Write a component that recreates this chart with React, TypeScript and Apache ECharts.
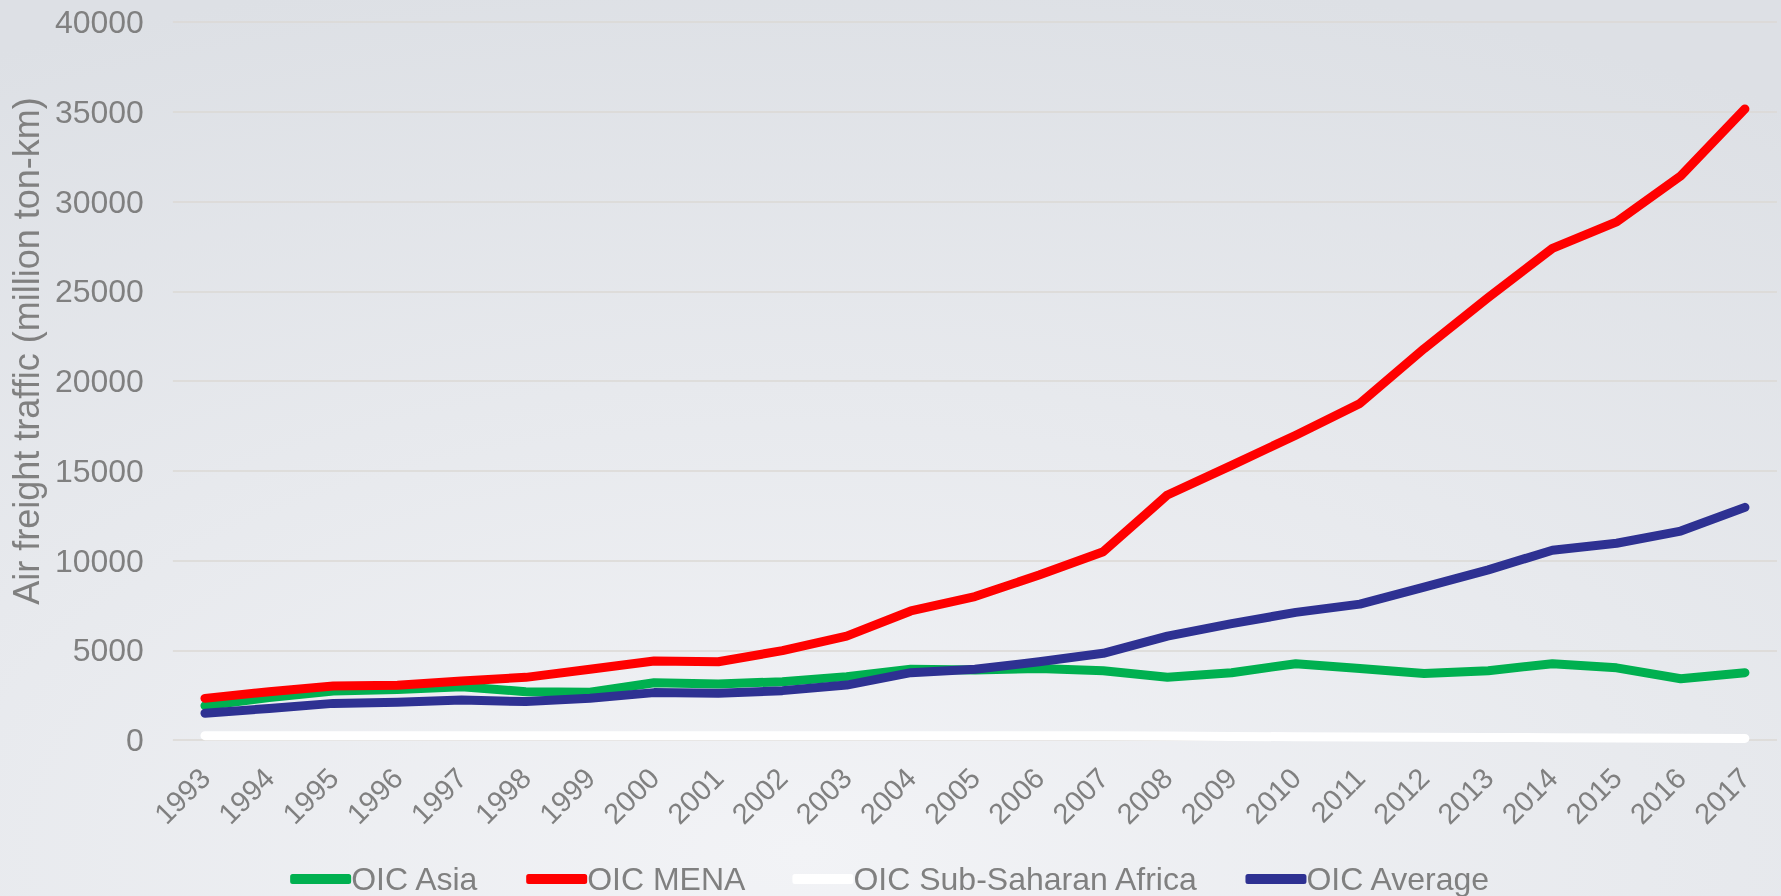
import React, { useEffect, useRef } from "react";
import * as echarts from "echarts";

const years = [
  "1993", "1994", "1995", "1996", "1997", "1998", "1999", "2000", "2001", "2002",
  "2003", "2004", "2005", "2006", "2007", "2008", "2009", "2010", "2011", "2012",
  "2013", "2014", "2015", "2016", "2017",
];

const oicAsia = [
  1910, 2360, 2730, 2820, 2970, 2690, 2660, 3190, 3120, 3250,
  3530, 3940, 3900, 3990, 3860, 3500, 3750, 4250, 3980, 3710,
  3860, 4250, 4020, 3410, 3750,
];

const oicMena = [
  2320, 2690, 3010, 3050, 3290, 3490, 3940, 4400, 4360, 4980,
  5790, 7190, 7990, 9190, 10490, 13650, 15300, 16980, 18750, 21800,
  24650, 27390, 28860, 31430, 35160,
];

const oicSsa = [
  240, 240, 240, 240, 240, 240, 240, 240, 230, 230,
  230, 230, 230, 230, 230, 220, 200, 180, 170, 150,
  140, 130, 110, 100, 90,
];

const oicAverage = [
  1490, 1760, 2040, 2100, 2230, 2140, 2320, 2640, 2600, 2750,
  3060, 3750, 3940, 4360, 4830, 5790, 6480, 7110, 7570, 8520,
  9480, 10570, 10960, 11640, 12960,
];

const seriesNames = ["OIC Asia", "OIC MENA", "OIC Sub-Saharan Africa", "OIC Average"];
const seriesColors = ["#00b050", "#ff0000", "#ffffff", "#2e3192"];
const yTitle = "Air freight traffic (million ton-km)";

const FONT = "'Liberation Sans', Arial, sans-serif";
const GREY = "#808080";

export default function App() {
  const ref = useRef<HTMLDivElement>(null);

  useEffect(() => {
    if (!ref.current) return;
    const chart = echarts.init(ref.current, null, { renderer: "svg" });
    const data = [oicAsia, oicMena, oicSsa, oicAverage];
    chart.setOption({
      animation: false,
      backgroundColor: {
        type: "radial",
        x: 0.45,
        y: 0.95,
        r: 1.0,
        colorStops: [
          { offset: 0, color: "#f2f3f6" },
          { offset: 1, color: "#dde0e5" },
        ],
      },
      textStyle: { fontFamily: FONT },
      grid: { left: 167, right: 4, top: 22, bottom: 156, containLabel: false },
      legend: {
        bottom: -4,
        left: "center",
        icon: "roundRect",
        itemWidth: 61,
        itemHeight: 10,
        itemGap: 47,
        textStyle: {
          color: GREY,
          fontSize: 32,
          fontFamily: FONT,
          padding: [0, 0, 0, -5],
        },
        data: seriesNames,
      },
      xAxis: {
        type: "category",
        data: years,
        boundaryGap: true,
        axisLine: { show: false },
        axisTick: { show: false },
        axisLabel: {
          rotate: 45,
          interval: 0,
          margin: 33,
          color: GREY,
          fontSize: 29,
          fontFamily: FONT,
        },
      },
      yAxis: {
        type: "value",
        min: 0,
        max: 40000,
        interval: 5000,
        name: yTitle,
        nameLocation: "middle",
        nameRotate: 90,
        nameGap: 119,
        nameTextStyle: {
          color: GREY,
          fontSize: 36,
          fontFamily: FONT,
          padding: [0, 0, 0, 60],
        },
        axisLine: { show: false },
        axisTick: { show: false },
        axisLabel: {
          color: GREY,
          fontSize: 32,
          margin: 29,
          fontFamily: FONT,
          formatter: (v: number) => String(v),
        },
        splitLine: { lineStyle: { color: "#dbd9d5", width: 1.5 } },
      },
      series: data.map((d, i) => ({
        name: seriesNames[i],
        type: "line",
        data: d,
        symbol: "none",
        color: seriesColors[i],
        lineStyle: { width: 9, color: seriesColors[i], cap: "round", join: "round" },
        itemStyle: { color: seriesColors[i] },
      })),
    });
    return () => chart.dispose();
  }, []);

  return (
    <div
      ref={ref}
      style={{ position: "fixed", left: 0, top: 0, width: 1781, height: 896 }}
    />
  );
}
